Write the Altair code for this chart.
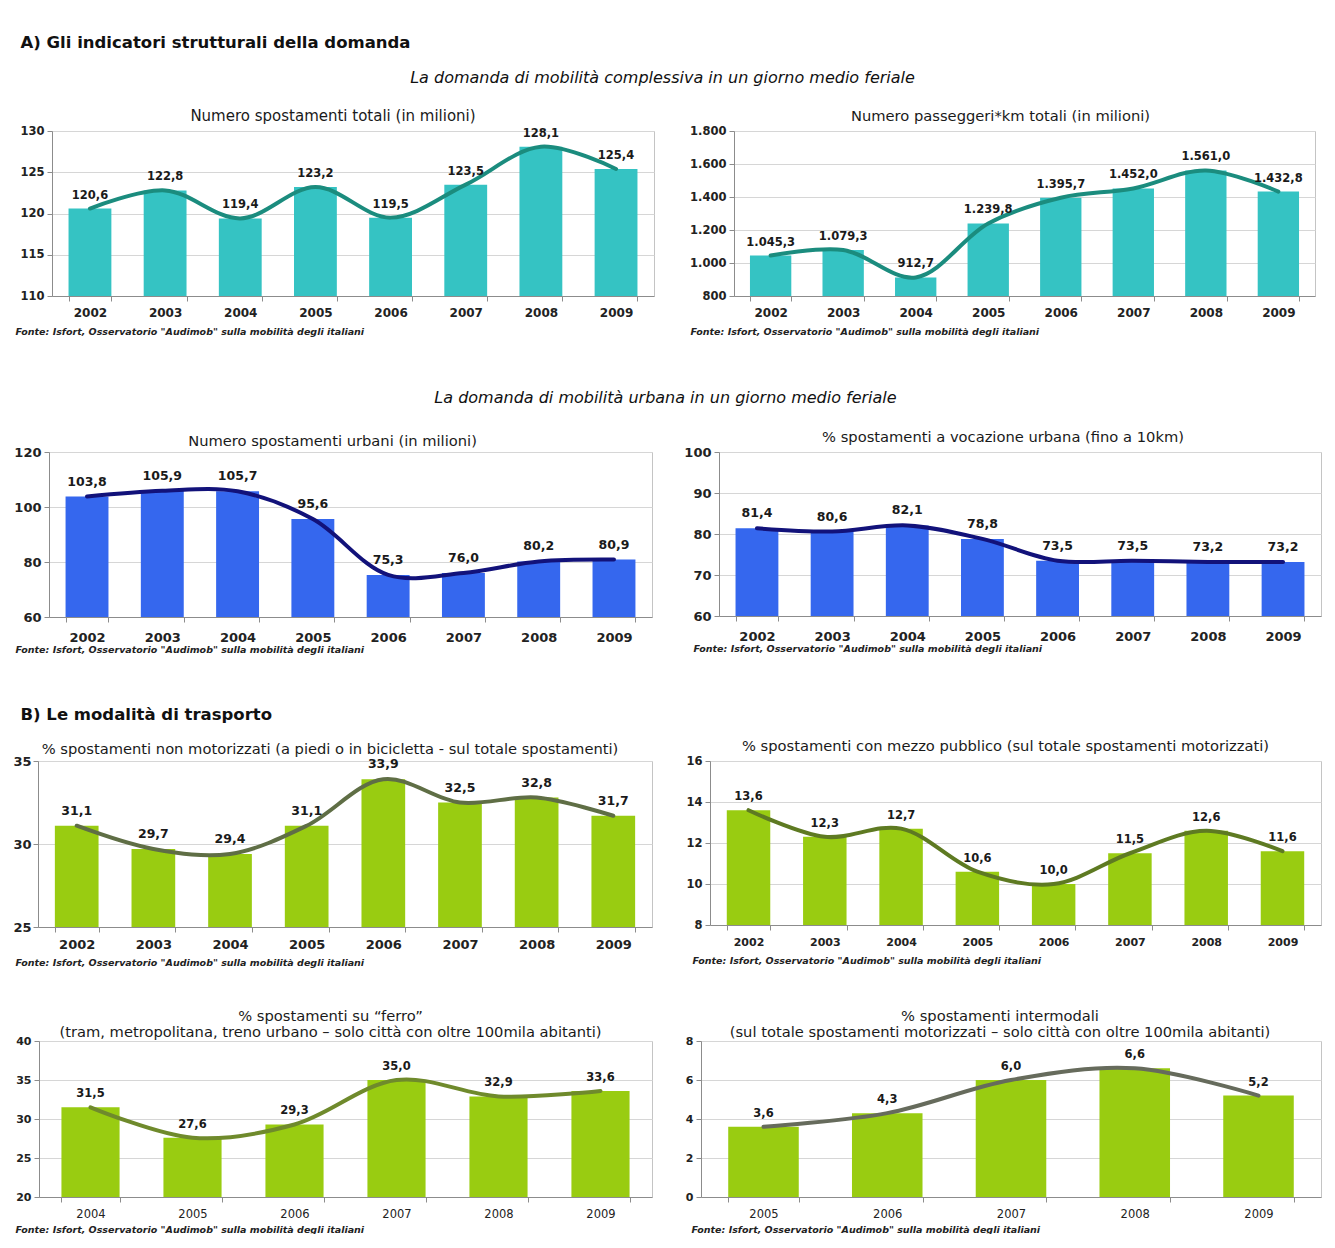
import altair as alt
import pandas as pd

FONT = "DejaVu Sans, Verdana, sans-serif"
SOURCE = 'Fonte: Isfort, Osservatorio "Audimob" sulla mobilità degli italiani'

# ---------------- data ----------------
years_0209 = ["2002", "2003", "2004", "2005", "2006", "2007", "2008", "2009"]
years_0409 = ["2004", "2005", "2006", "2007", "2008", "2009"]
years_0509 = ["2005", "2006", "2007", "2008", "2009"]

spostamenti_totali = [120.6, 122.8, 119.4, 123.2, 119.5, 123.5, 128.1, 125.4]
passeggeri_km = [1045.3, 1079.3, 912.7, 1239.8, 1395.7, 1452.0, 1561.0, 1432.8]
spostamenti_urbani = [103.8, 105.9, 105.7, 95.6, 75.3, 76.0, 80.2, 80.9]
vocazione_urbana = [81.4, 80.6, 82.1, 78.8, 73.5, 73.5, 73.2, 73.2]
non_motorizzati = [31.1, 29.7, 29.4, 31.1, 33.9, 32.5, 32.8, 31.7]
mezzo_pubblico = [13.6, 12.3, 12.7, 10.6, 10.0, 11.5, 12.6, 11.6]
ferro = [31.5, 27.6, 29.3, 35.0, 32.9, 33.6]
intermodali = [3.6, 4.3, 6.0, 6.6, 5.2]

ticks_tot = [110, 115, 120, 125, 130]
ticks_pkm = [800, 1000, 1200, 1400, 1600, 1800]
ticks_urb = [60, 80, 100, 120]
ticks_voc = [60, 70, 80, 90, 100]
ticks_nonmot = [25, 30, 35]
ticks_pubb = [8, 10, 12, 14, 16]
ticks_ferro = [20, 25, 30, 35, 40]
ticks_inter = [0, 2, 4, 6, 8]

TEAL, TEAL_LINE = "#35C3C3", "#1B8C7E"
BLUE, BLUE_LINE = "#3567EE", "#12127A"
GREEN = "#99CC11"

IT_FMT = "replace(replace(replace(format(datum.v, ',.1f'), ',', '_'), '.', ','), '_', '.')"
IT_TICK = "replace(format(datum.value, ','), ',', '.')"


def panel(years, vals, title, ticks, bar_color, line_color, width, height,
          extent, ylab=11.5, xlab=12, xbold="bold", val=11.5, dy=-13,
          title_size=14.7, title_offset=1, title_dx=0, src_y=35, src_x=-37,
          thousands=False, line_w=4, xpad=6, ypad=3):
    df = pd.DataFrame({"anno": years, "v": vals})
    yaxis = dict(values=ticks, title=None, labelFontSize=ylab, labelFontWeight="bold",
                 labelColor="#222222", domainColor="#8C8C8C", tickColor="#8C8C8C",
                 tickSize=5, grid=True, gridColor="#D6D6D6", labelPadding=ypad,
                 minExtent=extent, maxExtent=extent, labelFont=FONT)
    if thousands:
        yaxis["labelExpr"] = IT_TICK
    base = alt.Chart(df).encode(
        x=alt.X("anno:N", sort=None,
                scale=alt.Scale(paddingInner=0.43, paddingOuter=0.22),
                axis=alt.Axis(labelAngle=0, labelFontSize=xlab, labelFontWeight=xbold,
                              labelColor="#222222", labelFont=FONT,
                              domainColor="#8C8C8C", tickColor="#8C8C8C",
                              tickSize=5, tickBand="extent", labelPadding=xpad,
                              title=SOURCE, titleFont=FONT, titleFontSize=9.5,
                              titleFontStyle="italic", titleFontWeight="bold",
                              titleColor="#222222", titleAnchor="start",
                              titleAlign="left", titleBaseline="middle",
                              titleX=src_x, titleY=src_y)),
        y=alt.Y("v:Q", scale=alt.Scale(domain=[ticks[0], ticks[-1]], nice=False, zero=False),
                axis=alt.Axis(**yaxis)),
    )
    bars = base.mark_bar(color=bar_color, clip=True)
    line = base.mark_line(interpolate="catmull-rom", color=line_color,
                          strokeWidth=line_w, strokeCap="round")
    text = base.transform_calculate(lab=IT_FMT).mark_text(
        dy=dy, fontSize=val, fontWeight="bold", color="#1A1A1A", font=FONT
    ).encode(text="lab:N")
    return alt.layer(bars, line, text).properties(
        width=width, height=height,
        title=alt.TitleParams(title, fontSize=title_size, fontWeight="normal",
                              font=FONT, color="#1A1A1A", anchor="middle",
                              offset=title_offset, dx=title_dx),
    )


p1 = panel(years_0209, spostamenti_totali, "Numero spostamenti totali (in milioni)",
           ticks_tot, TEAL, TEAL_LINE, 602, 165, 39, src_x=-37, title_size=15,
           title_dx=-20)
p2 = panel(years_0209, passeggeri_km, "Numero passeggeri*km totali (in milioni)",
           ticks_pkm, TEAL, TEAL_LINE, 581, 165, 46, thousands=True, src_x=-44,
           title_dx=-24)
p3 = panel(years_0209, spostamenti_urbani, "Numero spostamenti urbani (in milioni)",
           ticks_urb, BLUE, BLUE_LINE, 603, 165, 36, ylab=13, xlab=13, val=12.5,
           dy=-15, src_y=32, src_x=-34, title_offset=-3, xpad=9, title_dx=-18)
p4 = panel(years_0209, vocazione_urbana, "% spostamenti a vocazione urbana (fino a 10km)",
           ticks_voc, BLUE, BLUE_LINE, 602, 164, 36, ylab=13, xlab=13, val=12.5,
           dy=-15, src_y=32, src_x=-26, title_offset=1, xpad=9, title_dx=-17)
p5 = panel(years_0209, non_motorizzati,
           "% spostamenti non motorizzati (a piedi o in bicicletta - sul totale spostamenti)",
           ticks_nonmot, GREEN, "#5F6E45", 614, 166, 25, ylab=13, xlab=13, val=12.5,
           dy=-15, src_y=35, src_x=-23, title_offset=-2, ypad=2, title_dx=-15)
p6 = panel(years_0209, mezzo_pubblico,
           "% spostamenti con mezzo pubblico (sul totale spostamenti motorizzati)",
           ticks_pubb, GREEN, "#5E7A22", 611, 164, 28, xlab=11, src_y=35, src_x=-18,
           title_offset=1, title_dx=-10)
p7 = panel(years_0409, ferro,
           ["% spostamenti su \u201cferro\u201d",
            "(tram, metropolitana, treno urbano \u2013 solo città con oltre 100mila abitanti)"],
           ticks_ferro, GREEN, "#6F8A2C", 613, 156, 26, ylab=11, xlab=11.5, xbold="normal",
           src_y=32, src_x=-24, title_offset=-5, title_dx=-15)
p8 = panel(years_0509, intermodali,
           ["% spostamenti intermodali",
            "(sul totale spostamenti motorizzati \u2013 solo città con oltre 100mila abitanti)"],
           ticks_inter, GREEN, "#666B5C", 620, 156, 24, ylab=11, xlab=11.5, xbold="normal",
           src_y=32, src_x=-10, title_offset=-5, title_dx=-11)


def head(text, size, weight="bold", style="normal", anchor="start", offset=18, dx=0,
         line_height=None):
    kw = {}
    if line_height is not None:
        kw["lineHeight"] = line_height
    return alt.TitleParams(text, fontSize=size, fontWeight=weight, fontStyle=style,
                           font=FONT, color="#111111", anchor=anchor, offset=offset,
                           dx=dx, **kw)


def spacer():
    return alt.Chart(pd.DataFrame({"s": [0]})).mark_rect(opacity=0).encode(
        x=alt.value(0), x2=alt.value(1), y=alt.value(0), y2=alt.value(1)
    ).properties(width=1, height=1, view=alt.ViewBackground(stroke="transparent"))


def row(left, right, gap, title=None):
    inner = alt.hconcat(left, right, spacing=gap)
    outer = alt.hconcat(spacer(), inner, spacing=0)
    if title is not None:
        outer = outer.properties(title=title)
    return outer


row1 = row(p1, p2, 32, head("La domanda di mobilità complessiva in un giorno medio feriale", 16,
                            weight="normal", style="italic", anchor="middle", offset=23))
row2 = row(p3, p4, 29, head([" ", "La domanda di mobilità urbana in un giorno medio feriale"], 16,
                            weight="normal", style="italic", anchor="middle", offset=24,
                            line_height=12))
row3 = row(p5, p6, 28, head([" ", "B) Le modalità di trasporto"], 16.5, offset=15, dx=11,
                            line_height=12))
row4 = row(p7, p8, 23)

chart = alt.ConcatChart(
    concat=[row1, row2, row3, row4],
    columns=1,
    align="none",
    spacing=41,
    title=head("A) Gli indicatori strutturali della domanda", 16.5, offset=18, dx=11),
    padding={"left": 1, "top": 27, "right": 0, "bottom": 0},
).configure(font=FONT).configure_view(stroke="#C4C4C4")

chart.save("out.html", embed_options={"renderer": "svg", "actions": False})
